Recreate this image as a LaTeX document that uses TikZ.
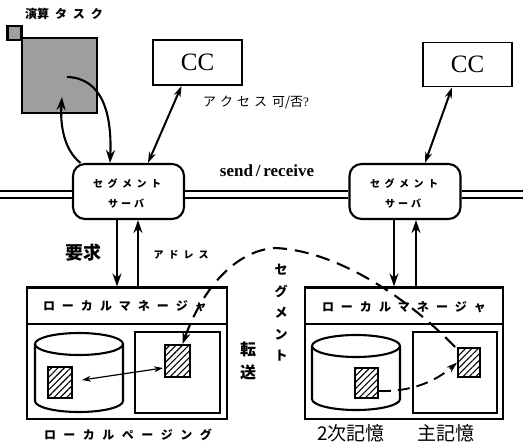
\documentclass[tikz,border=0pt]{standalone}
\usepackage{fontspec}
\newfontfamily\jp{Noto Sans CJK JP}
\newfontfamily\ser{Liberation Serif}
\usetikzlibrary{arrows.meta,patterns.meta,calc}
\makeatletter
\newcommand\spc[2]{\def\spc@sep{}\@tfor\spc@c:=#2\do{\spc@sep\spc@c\def\spc@sep{\hspace{#1}}}}
\makeatother
\begin{document}
\begin{tikzpicture}[x=1pt,y=-1pt,
  box/.style={draw, line width=2.1pt, inner sep=0pt},
  server/.style={draw, line width=2.1pt, rounded corners=12pt, minimum width=111pt, minimum height=55pt, inner sep=0pt},
  ar/.style={line width=2.1pt, -{Stealth[length=13pt,width=9pt]}},
  dar/.style={line width=2pt, {Stealth[length=11pt,width=7pt]}-{Stealth[length=11pt,width=7pt]}},
  thinar/.style={line width=1.2pt, {Stealth[length=9pt,width=6pt]}-{Stealth[length=9pt,width=6pt]}},
  hatch/.style={draw, line width=1.8pt, inner sep=0pt, pattern={Lines[angle=45,distance=4.5pt,line width=1.1pt]}},
  net/.style={double, double distance=5pt, line width=1.6pt},
  dsh/.style={line width=2.1pt, dash pattern=on 14pt off 8pt},
  jlbl/.style={inner sep=0pt, font={\jp\bfseries\fontsize{#1pt}{#1pt}\selectfont}},
]
\useasboundingbox (0,0) rectangle (523,445);

% top-left task
\node[box, fill=black!38, minimum width=14pt, minimum height=14pt] (tsmall) at (14.5,33) {};
\node[box, fill=black!38, minimum width=75pt, minimum height=75pt] (task) at (59.5,75.5) {};
\node[jlbl=12] (tasklbl) at (64,14) {演算\hspace{6pt}\spc{6pt}{タスク}};

% CC boxes
\node[box, line width=1.9pt, minimum width=89pt, minimum height=45pt, font=\ser\fontsize{25pt}{25pt}\selectfont] (cc1) at (197.5,62.5) {CC};
\node[box, line width=1.9pt, minimum width=89pt, minimum height=44pt, font=\ser\fontsize{25pt}{25pt}\selectfont] (cc2) at (467.5,64.5) {CC};
\node[jlbl=13, font={\jp\fontsize{13pt}{13pt}\selectfont}] (acc) at (256,102) {\spc{4pt}{アクセス}\hspace{5pt}可/否{\ser ?}};

% servers
\node[server] (srv1) at (128.5,191.5) {};
\node[server] (srv2) at (405,191.5) {};
\node[jlbl=10] (s1a) at (127,184) {\spc{4.5pt}{セグメント}};
\node[jlbl=10] (s1b) at (126,204) {\spc{3pt}{サーバ}};
\node[jlbl=10] (s2a) at (404,184) {\spc{4.5pt}{セグメント}};
\node[jlbl=10] (s2b) at (403,204) {\spc{3pt}{サーバ}};

% network
\coordinate (netL) at (0,194.5);
\coordinate (netR) at (523,194.5);
\draw[net] (netL) -- ([yshift=-3pt]srv1.west);
\draw[net] ([yshift=-3pt]srv1.east) -- ([yshift=-3pt]srv2.west);
\draw[net] ([yshift=-3pt]srv2.east) -- (netR);
\node[inner sep=0pt, font=\ser\bfseries\fontsize{17pt}{17pt}\selectfont] (sr) at (267,171) {send\,/\,receive};

% managers
\node[box, minimum width=200pt, minimum height=131.5pt] (mgr1) at (127,353.25) {};
\node[box, minimum width=200pt, minimum height=36.5pt, anchor=north] (hdr1) at (mgr1.north) {};
\node[jlbl=12] (hdr1t) at (125,306) {\spc{7pt}{ローカルマネージャ}};
\node[box, minimum width=198pt, minimum height=131.5pt] (mgr2) at (404,353.25) {};
\node[box, minimum width=198pt, minimum height=36.5pt, anchor=north] (hdr2) at (mgr2.north) {};
\node[jlbl=12] (hdr2t) at (404,307) {\spc{7pt}{ローカルマネージャ}};

% memories
\node[box, minimum width=85pt, minimum height=81pt] (mem1) at (177.5,372.5) {};
\node[box, minimum width=84pt, minimum height=81pt] (mem2) at (455,372.5) {};

% cylinders
\draw[line width=2.1pt] (79,344) ellipse [x radius=44pt, y radius=11pt];
\draw[line width=2.1pt] (35,344) -- (35,401) arc[start angle=180, end angle=360, x radius=44pt, y radius=11pt] -- (123,344);
\draw[line width=2.1pt] (356,346) ellipse [x radius=44pt, y radius=11pt];
\draw[line width=2.1pt] (312,346) -- (312,399) arc[start angle=180, end angle=360, x radius=44pt, y radius=11pt] -- (400,346);

% hatched blocks
\node[hatch, minimum width=24pt, minimum height=31pt] (h1a) at (60,382.5) {};
\node[hatch, minimum width=25pt, minimum height=32pt] (h1b) at (177.5,361) {};
\node[hatch, minimum width=23pt, minimum height=30pt] (h2a) at (366.5,383) {};
\node[hatch, minimum width=22pt, minimum height=29pt] (h2b) at (469,362.5) {};

% task arrows
\coordinate (t1) at (62,97);
\coordinate (t2) at (67,77);
\draw[ar] ([xshift=-48pt]srv1.north) .. controls (64,150) and (60,125) .. (t1);
\draw[ar] (t2) .. controls (103,78) and (112,115) .. ([xshift=-18.5pt]srv1.north);

% CC arrows
\draw[dar] ([xshift=19.5pt]srv1.north) -- ([xshift=-16pt]cc1.south);
\draw[dar] ([xshift=20pt]srv2.north) -- ([xshift=-15.5pt]cc2.south);

% server-manager arrows
\draw[ar] ([xshift=-11.5pt]srv1.south) -- ([xshift=-11.5pt]srv1.south |- mgr1.north);
\draw[ar] ([xshift=9.5pt]srv1.south |- mgr1.north) -- ([xshift=9.5pt]srv1.south);
\draw[ar] ([xshift=-11pt]srv2.south) -- ([xshift=-11pt]srv2.south |- mgr2.north);
\draw[ar] ([xshift=11pt]srv2.south |- mgr2.north) -- ([xshift=11pt]srv2.south);
\node[jlbl=18] (req) at (83,253) {要求};
\node[jlbl=10] (addr) at (181,255) {\spc{5pt}{アドレス}};

% local paging arrow
\coordinate (da) at (82,380);
\coordinate (db) at (163,368);
\draw[thinar] (da) -- (db);

% segment transfer
\coordinate (peak) at (275,248);
\draw[dsh, -{Stealth[length=12pt,width=8pt]}] ([xshift=-2pt]h2b.north west) .. controls (400,290) and (330,250) .. (peak) .. controls (240,250) and (205,282) .. ([xshift=5pt]h1b.north);
\draw[line width=1.9pt, dash pattern=on 12pt off 7pt, -{Stealth[length=11pt,width=7pt]}] ([yshift=-8pt]h2a.east) .. controls (410,392) and (435,382) .. (h2b.west);

% other labels
\node[jlbl=13, align=center, font={\jp\bfseries\fontsize{13pt}{21.5pt}\selectfont}] (segv) at (281,313) {セ\\グ\\メ\\ン\\ト};
\node[jlbl=16, align=center, font={\jp\bfseries\fontsize{16pt}{23pt}\selectfont}] (tenso) at (248,361) {転\\送};
\node[jlbl=12] (lp) at (128,435) {\spc{7.5pt}{ローカルページング}};
\node[jlbl=19, font={\jp\fontsize{19pt}{19pt}\selectfont}] (l2) at (351,433) {2次記憶};
\node[jlbl=19, font={\jp\fontsize{19pt}{19pt}\selectfont}] (lm) at (446,433) {主記憶};
\end{tikzpicture}
\end{document}
